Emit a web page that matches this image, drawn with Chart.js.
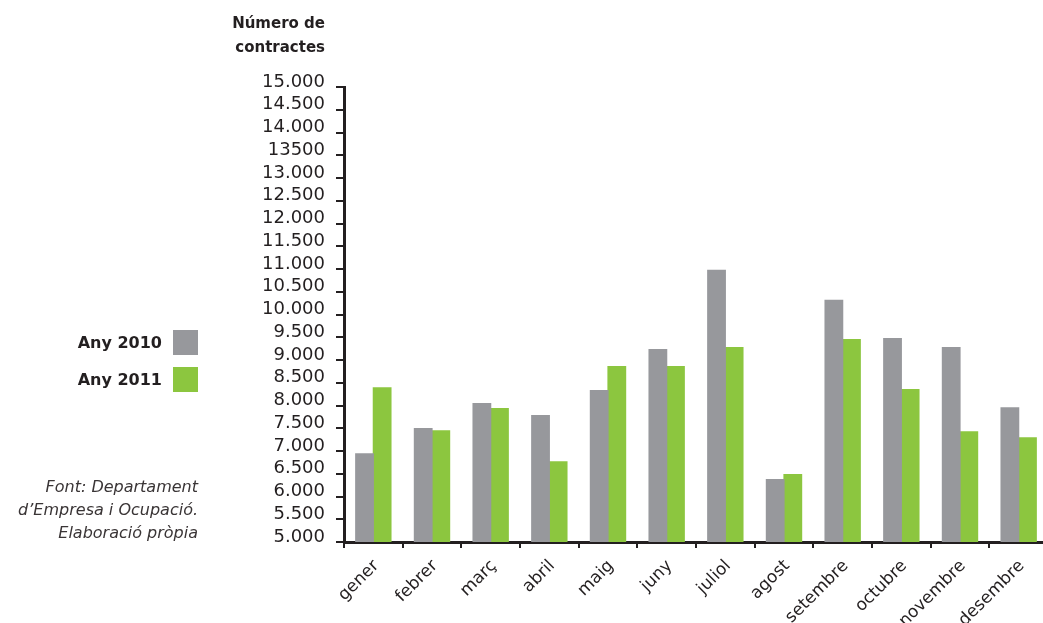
<!DOCTYPE html>
<html>
<head>
<meta charset="utf-8">
<script src="https://cdn.jsdelivr.net/npm/chart.js@4/dist/chart.umd.min.js"></script>
<style>
  html, body { margin: 0; padding: 0; background: #ffffff; overflow: hidden; width: 1043px; height: 623px; }
  #wrap { position: relative; width: 1048px; height: 623px; }
</style>
</head>
<body>
<div id="wrap"><canvas id="c" width="1048" height="623"></canvas></div>
<script>
const months = ['gener','febrer','març','abril','maig','juny','juliol','agost','setembre','octubre','novembre','desembre'];
const series2010 = [6940, 7490, 8040, 7780, 8330, 9230, 10970, 6370, 10310, 9470, 9270, 7950];
const series2011 = [8390, 7445, 7930, 6760, 8855, 8855, 9270, 6480, 9450, 8350, 7420, 7290];
const seriesNames = ['Any 2010', 'Any 2011'];
const yTickLabels = ['5.000','5.500','6.000','6.500','7.000','7.500','8.000','8.500','9.000','9.500','10.000','10.500','11.000','11.500','12.000','12.500','13.000','13500','14.000','14.500','15.000'];
const titleLines = ['Número de', 'contractes'];
const sourceLines = ['Font: Departament', 'd\u2019Empresa i Ocupació.', 'Elaboració pròpia'];

const INK = '#231f20';
const GRAY = '#97989c';
const GREEN = '#8cc63f';

const annotations = {
  id: 'annotations',
  afterDraw(chart) {
    const ctx = chart.ctx;
    ctx.save();
    ctx.fillStyle = INK;
    ctx.textAlign = 'right';
    ctx.textBaseline = 'alphabetic';
    // axis title
    ctx.font = 'bold 15px "DejaVu Sans"';
    ctx.fillText(titleLines[0], 325, 28);
    ctx.fillText(titleLines[1], 325, 52);
    // legend
    ctx.font = 'bold 16px "DejaVu Sans"';
    const ys = [330, 367];
    chart.data.datasets.forEach((ds, i) => {
      ctx.fillStyle = ds.backgroundColor;
      ctx.fillRect(173, ys[i], 25, 25);
      ctx.fillStyle = INK;
      ctx.fillText(ds.label, 162, ys[i] + 18);
    });
    // source
    ctx.font = 'oblique 16px "DejaVu Sans"';
    ctx.fillStyle = '#3a3536';
    sourceLines.forEach((t, i) => ctx.fillText(t, 198, 492 + i * 23));
    ctx.restore();
  }
};

new Chart(document.getElementById('c'), {
  type: 'bar',
  data: {
    labels: months,
    datasets: [
      { label: seriesNames[0], data: series2010, backgroundColor: GRAY, borderWidth: 0, inflateAmount: 0.6 },
      { label: seriesNames[1], data: series2011, backgroundColor: GREEN, borderWidth: 0, inflateAmount: 0.6 }
    ]
  },
  options: {
    responsive: false,
    animation: false,
    devicePixelRatio: 1,
    layout: { padding: { top: 87, right: 0, left: 0, bottom: 0 } },
    categoryPercentage: 0.6,
    barPercentage: 1.0,
    plugins: {
      legend: { display: false },
      tooltip: { enabled: false },
      title: { display: false }
    },
    scales: {
      x: {
        afterFit: (s) => { s.height = 81; },
        border: { display: true, color: INK, width: 3 },
        grid: { offset: true, drawOnChartArea: false, drawTicks: true, tickLength: 6, color: INK, lineWidth: 2 },
        ticks: {
          color: INK,
          font: { family: '"DejaVu Sans"', size: 17 },
          maxRotation: 45, minRotation: 45,
          padding: 8,
          labelOffset: 3,
          autoSkip: false
        }
      },
      y: {
        min: 5000, max: 15000,
        afterFit: (s) => { s.width = 344; },
        border: { display: true, color: INK, width: 3 },
        grid: { drawOnChartArea: false, drawTicks: true, tickLength: 8, color: INK, lineWidth: 2 },
        ticks: {
          stepSize: 500,
          color: INK,
          font: { family: '"DejaVu Sans"', size: 18 },
          padding: 11,
          labelOffset: -5,
          autoSkip: false,
          callback: (value, index) => yTickLabels[index]
        }
      }
    }
  },
  plugins: [annotations]
});
</script>
</body>
</html>
